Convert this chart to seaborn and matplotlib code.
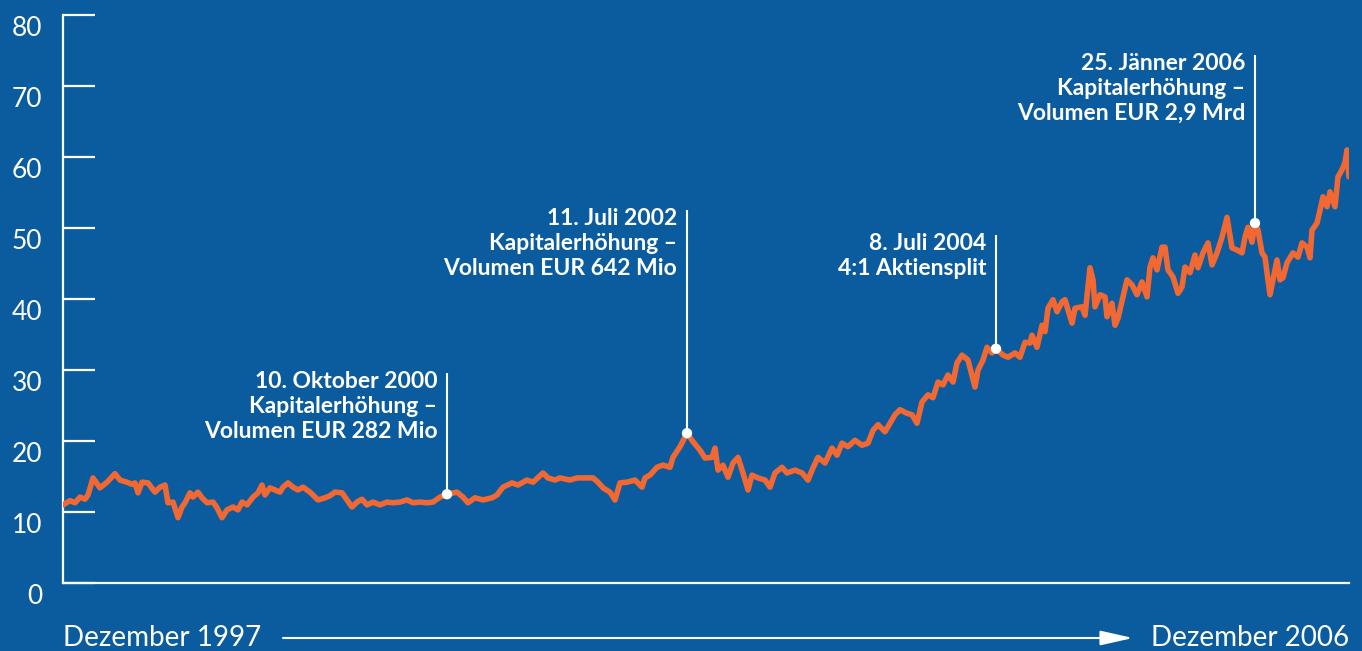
import numpy as np
import pandas as pd
import matplotlib
matplotlib.use("Agg")
import matplotlib.pyplot as plt
import seaborn as sns
from matplotlib.transforms import ScaledTranslation
from matplotlib.patches import FancyArrowPatch, ArrowStyle

# Kursverlauf: Zeitindex (Dezember 1997 = 0 ... Dezember 2006 = 1286) und Kurs in EUR
zeitindex = [
    0, 7, 12, 17, 22, 25, 30, 37, 44, 52, 57, 64, 69, 72, 75, 79, 85, 92, 97, 102,
    105, 110, 115, 119, 122, 127, 130, 135, 139, 144, 150, 154, 159, 164, 170, 175, 179, 184, 190, 195,
    199, 202, 207, 212, 217, 220, 225, 230, 235, 240, 247, 255, 262, 267, 272, 279, 284, 289, 294, 299,
    304, 310, 317, 324, 330, 337, 344, 350, 357, 364, 370, 377, 384, 394, 400, 405, 412, 420, 429, 434,
    440, 449, 455, 464, 470, 480, 485, 492, 497, 507, 514, 524, 530, 535, 540, 547, 552, 557, 564, 572,
    579, 582, 587, 594, 600, 607, 610, 617, 624, 630, 637, 642, 649, 652, 655, 660, 665, 670, 675, 680,
    685, 689, 695, 702, 707, 712, 719, 724, 732, 739, 745, 750, 755, 762, 769, 774, 779, 785, 792, 799,
    805, 810, 815, 822, 827, 832, 837, 844, 849, 854, 859, 865, 870, 875, 880, 885, 890, 894, 899, 905,
    912, 915, 920, 924, 929, 933, 940, 945, 952, 957, 962, 967, 969, 974, 979, 982, 985, 990, 994, 999,
    1002, 1005, 1009, 1012, 1019, 1022, 1025, 1027, 1030, 1032, 1037, 1042, 1044, 1049, 1052, 1055, 1060, 1064, 1069, 1074,
    1079, 1084, 1087, 1090, 1094, 1099, 1102, 1105, 1110, 1115, 1119, 1122, 1127, 1132, 1135, 1140, 1145, 1149, 1154, 1159,
    1164, 1169, 1174, 1179, 1182, 1185, 1189, 1192, 1195, 1199, 1202, 1204, 1207, 1210, 1214, 1217, 1220, 1224, 1230, 1235,
    1239, 1244, 1247, 1249, 1254, 1257, 1260, 1264, 1267, 1272, 1275, 1279, 1282, 1284, 1286,
]
kurs = [
    11.0, 11.6, 11.3, 12.1, 11.8, 12.4, 14.8, 13.4, 14.2, 15.4, 14.5, 14.2, 13.9, 14.1, 12.7, 14.2, 14.1, 12.8, 13.5, 13.8,
    11.3, 11.4, 9.2, 10.7, 11.3, 12.7, 12.1, 12.8, 12.0, 11.3, 11.4, 10.6, 9.2, 10.3, 10.7, 10.3, 11.4, 11.0, 12.1, 12.7,
    13.8, 12.4, 13.4, 13.1, 12.8, 13.5, 14.1, 13.5, 13.1, 13.5, 12.8, 11.7, 12.0, 12.3, 12.8, 12.7, 11.7, 10.7, 11.4, 11.8,
    11.0, 11.4, 11.0, 11.4, 11.3, 11.4, 11.7, 11.3, 11.4, 11.3, 11.4, 12.1, 12.5, 12.8, 12.1, 11.3, 12.0, 11.7, 12.0, 12.4,
    13.5, 14.1, 13.8, 14.5, 14.2, 15.5, 14.8, 14.5, 14.8, 14.5, 14.8, 14.8, 14.8, 14.2, 13.4, 12.8, 11.7, 14.1, 14.2, 14.5,
    13.5, 14.8, 15.2, 16.3, 16.6, 16.3, 17.7, 19.2, 21.1, 19.9, 18.7, 17.6, 17.7, 19.0, 15.9, 16.6, 14.9, 16.9, 17.7, 15.5,
    13.1, 15.2, 14.8, 14.5, 13.5, 15.5, 16.3, 15.5, 15.9, 15.5, 14.5, 16.2, 17.7, 16.9, 19.0, 18.0, 19.7, 19.2, 20.1, 19.4,
    19.7, 21.5, 22.3, 21.3, 22.5, 23.7, 24.4, 23.9, 23.7, 22.5, 25.5, 26.5, 26.1, 28.3, 27.9, 29.3, 28.3, 31.0, 32.1, 31.4,
    27.6, 30.0, 31.4, 33.2, 32.4, 33.0, 32.1, 31.8, 32.4, 31.8, 33.9, 33.8, 34.9, 33.2, 36.3, 35.4, 38.7, 39.9, 38.2, 39.6,
    39.9, 38.5, 36.6, 38.7, 38.9, 37.7, 41.7, 44.4, 42.7, 38.9, 40.6, 40.3, 37.5, 39.4, 36.3, 37.3, 40.3, 42.7, 42.0, 40.6,
    42.4, 40.3, 44.5, 45.8, 44.1, 47.3, 47.3, 44.1, 43.1, 40.8, 41.7, 44.5, 43.7, 46.2, 44.4, 46.5, 47.9, 44.8, 46.5, 48.7,
    51.5, 47.2, 46.9, 46.5, 48.7, 50.1, 48.0, 50.7, 49.7, 46.5, 45.9, 43.7, 40.6, 42.7, 45.5, 42.7, 43.0, 45.1, 46.5, 45.9,
    47.9, 47.3, 45.8, 49.7, 50.7, 52.5, 54.4, 53.0, 55.1, 53.0, 57.2, 58.2, 59.2, 61.0, 57.2,
]

# Ereignisse: Zeitindex, Oberkante der Beschriftung (EUR-Skala), Text
ereignis_index = [384, 624, 933, 1192]
ereignis_oben = [29.6, 52.5, 49.0, 74.4]
ereignis_text = [
    "10. Oktober 2000\nKapitalerhöhung –\nVolumen EUR 282 Mio",
    "11. Juli 2002\nKapitalerhöhung –\nVolumen EUR 642 Mio",
    "8. Juli 2004\n4:1 Aktiensplit",
    "25. Jänner 2006\nKapitalerhöhung –\nVolumen EUR 2,9 Mrd",
]

y_ticks = [0, 10, 20, 30, 40, 50, 60, 70, 80]
start_label = "Dezember 1997"
end_label = "Dezember 2006"

BLAU = "#0A5C9F"
ORANGE = "#F26832"
WEISS = "#FFFFFF"

sns.set_theme(style="white")
plt.rcParams["font.family"] = ["Lato", "DejaVu Sans"]

df = pd.DataFrame({"t": zeitindex, "kurs": kurs})
lookup = dict(zip(zeitindex, kurs))
ev = pd.DataFrame({"t": ereignis_index, "kurs": [lookup[i] for i in ereignis_index]})

fig = plt.figure(figsize=(13.62, 6.51), dpi=100, facecolor=BLAU)
ax = fig.add_axes([63 / 1362, 68 / 651, (1349 - 63) / 1362, (583 - 15) / 651])
ax.set_facecolor(BLAU)

sns.lineplot(data=df, x="t", y="kurs", ax=ax, color=ORANGE, linewidth=4.0,
             solid_joinstyle="round", solid_capstyle="round", zorder=3)

# Markierungen der Ereignisse
ax.vlines(ev["t"], ev["kurs"], ereignis_oben, color=WEISS, linewidth=1.5, zorder=4)
sns.scatterplot(data=ev, x="t", y="kurs", ax=ax, color=WEISS, s=55,
                edgecolor="none", zorder=5, legend=False)
for xi, top, txt in zip(ereignis_index, ereignis_oben, ereignis_text):
    ax.annotate(txt, xy=(xi, top), xytext=(-7, 1.5), textcoords="offset points",
                ha="right", va="top", color=WEISS, fontsize=16.5,
                fontweight="bold", linespacing=1.24, zorder=6)

ax.set_xlim(0, 1286)
ax.set_ylim(0, 80)
ax.set_xlabel("")
ax.set_ylabel("")
ax.set_xticks([])
ax.set_yticks(y_ticks)
ax.set_yticklabels([str(v) for v in y_ticks])
ax.tick_params(axis="y", left=True, direction="in", length=23, width=1.6, color=WEISS,
               labelcolor=WEISS, labelsize=19, pad=15)
for lab in ax.get_yticklabels():
    lab.set_transform(lab.get_transform() + ScaledTranslation(0, -8 / 72, fig.dpi_scale_trans))

for side in ("top", "right"):
    ax.spines[side].set_visible(False)
for side in ("left", "bottom"):
    ax.spines[side].set_color(WEISS)
    ax.spines[side].set_linewidth(1.6)

# Zeitachse unten
fig.text(63 / 1362, 5 / 651, start_label, ha="left", va="baseline",
         color=WEISS, fontsize=20)
fig.text(1349 / 1362, 5 / 651, end_label, ha="right", va="baseline",
         color=WEISS, fontsize=20)
pfeil = FancyArrowPatch((283 / 1362, 13 / 651), (1133 / 1362, 13 / 651),
                        transform=fig.transFigure,
                        arrowstyle=ArrowStyle("-|>", head_length=2.0, head_width=0.45),
                        mutation_scale=10, color=WEISS, linewidth=1.5,
                        shrinkA=0, shrinkB=0)
fig.add_artist(pfeil)

fig.savefig("out.png", dpi=100, facecolor=BLAU)
